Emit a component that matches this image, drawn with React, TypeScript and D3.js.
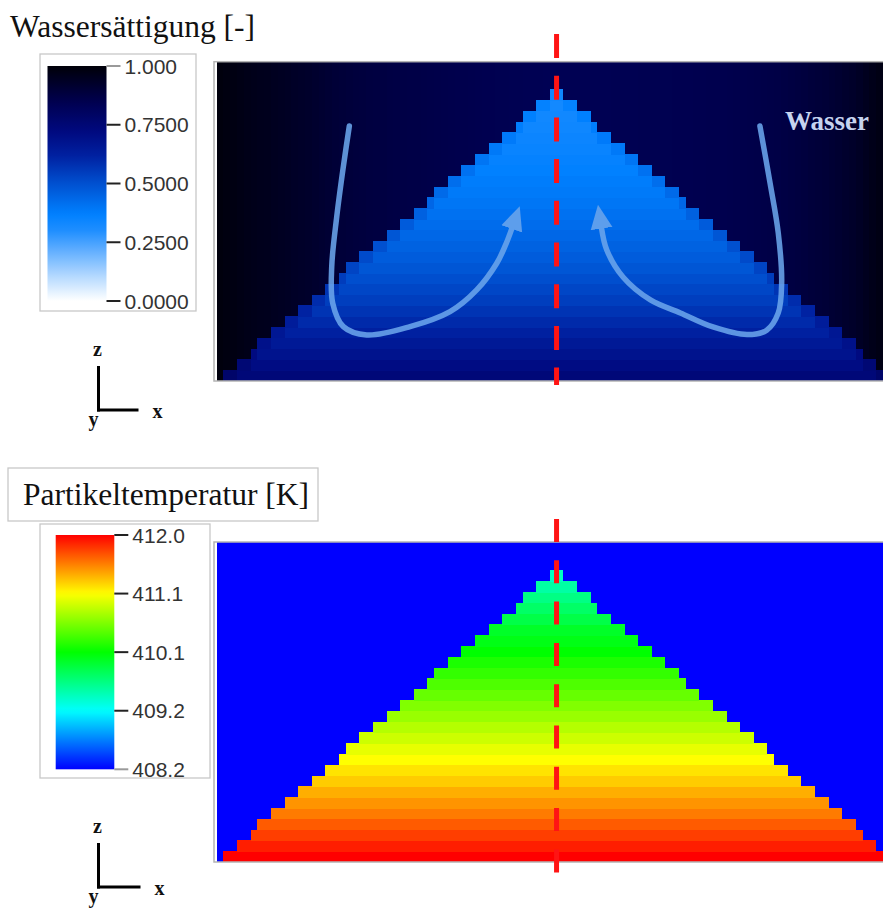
import React from "react";
import * as d3 from "d3";

// ---------- DATA ----------
// column indices of the grid (first one partially visible)
const columnIds = [
  -1, 0, 1, 2, 3, 4, 5, 6, 7, 8, 9, 10, 11, 12, 13, 14, 15, 16, 17, 18, 19, 20, 21, 22, 23, 24,
  25, 26, 27, 28, 29, 30, 31, 32, 33, 34, 35, 36, 37, 38, 39, 40, 41, 42, 43, 44, 45, 46, 47, 48,
  49, 50, 51, 52, 53, 54, 55, 56, 57, 58, 59, 60, 61, 62, 63, 64, 65, 66, 67, 68, 69, 70, 71, 72,
  73, 74, 75, 76, 77, 78, 79, 80, 81, 82, 83, 84, 85, 86, 87, 88, 89, 90, 91, 92, 93, 94, 95, 96, 97,
];
// height of the particle bed (in cells) per column
const bedHeight = [
  0, 1, 1, 2, 2, 3, 4, 4, 5, 5, 6, 6, 7, 7, 8, 8, 9, 9, 10, 11, 11, 12, 12, 13, 13, 14, 14, 15, 15,
  16, 16, 17, 18, 18, 19, 19, 20, 20, 21, 21, 22, 22, 23, 23, 24, 25, 25, 26, 26, 27, 27, 26, 26,
  25, 25, 24, 23, 23, 22, 22, 21, 21, 20, 20, 19, 19, 18, 18, 17, 16, 16, 15, 15, 14, 14, 13, 13,
  12, 12, 11, 11, 10, 9, 9, 8, 8, 7, 7, 6, 6, 5, 5, 4, 4, 3, 2, 2, 1, 1,
];
// water saturation of the free space above the bed, per column
const waterBackground = [
  0.99, 0.982, 0.978, 0.972, 0.966, 0.962, 0.958, 0.954, 0.948, 0.944, 0.94, 0.934, 0.93, 0.924,
  0.918, 0.912, 0.906, 0.9, 0.896, 0.891, 0.887, 0.884, 0.88, 0.878, 0.875, 0.872, 0.87, 0.868,
  0.866, 0.864, 0.862, 0.86, 0.858, 0.856, 0.855, 0.853, 0.852, 0.85, 0.848, 0.846, 0.845, 0.843,
  0.842, 0.84, 0.839, 0.838, 0.837, 0.836, 0.835, 0.835, 0.835, 0.835, 0.836, 0.836, 0.837, 0.837,
  0.838, 0.838, 0.839, 0.839, 0.84, 0.84, 0.841, 0.841, 0.842, 0.842, 0.843, 0.844, 0.845, 0.846,
  0.847, 0.848, 0.849, 0.85, 0.851, 0.852, 0.854, 0.856, 0.858, 0.86, 0.862, 0.865, 0.868, 0.872,
  0.876, 0.88, 0.885, 0.89, 0.895, 0.9, 0.906, 0.912, 0.92, 0.928, 0.938, 0.95, 0.963, 0.975, 0.982,
];
// water saturation inside the bed, per row (bottom -> top)
const waterInterior = [
  0.74, 0.71, 0.68, 0.65, 0.62, 0.595, 0.57, 0.545, 0.525, 0.505, 0.485, 0.468, 0.452, 0.437, 0.423,
  0.41, 0.398, 0.387, 0.377, 0.367, 0.358, 0.35, 0.343, 0.337, 0.332, 0.327, 0.323,
];
// water saturation of the surface cells of the bed, per row
const waterSurface = [
  0.78, 0.75, 0.72, 0.69, 0.66, 0.64, 0.615, 0.59, 0.57, 0.55, 0.53, 0.515, 0.5, 0.485, 0.47, 0.455,
  0.44, 0.43, 0.42, 0.41, 0.4, 0.39, 0.385, 0.375, 0.37, 0.36, 0.335,
];
// particle temperature inside the bed, per row (bottom -> top) [K]
const particleTemp = [
  412.0, 411.89, 411.77, 411.66, 411.54, 411.45, 411.35, 411.24, 411.15, 411.05, 410.96, 410.86,
  410.77, 410.67, 410.58, 410.48, 410.39, 410.29, 410.2, 410.1, 410.02, 409.95, 409.83, 409.72,
  409.61, 409.49, 409.38,
];
const gasTemp = 408.2;

// colour maps
const waterStops = [0, 0.1, 0.2, 0.3, 0.37, 0.5, 0.62, 0.72, 0.85, 1];
const waterColors = ["#ffffff", "#b8dbff", "#6cb4ff", "#1f8eff", "#0080ff", "#0050d0", "#0020a0", "#000a80", "#00004e", "#000008"];
const tempStops = [408.2, 409.15, 410.1, 411.05, 412.0];
const tempColors = ["#0000ff", "#00ffff", "#00ff00", "#ffff00", "#ff0000"];

// legend ticks
const waterTicks = [1.0, 0.75, 0.5, 0.25, 0.0];
const waterTickLabels = ["1.000", "0.7500", "0.5000", "0.2500", "0.0000"];
const tempTicks = [412.0, 411.05, 410.1, 409.15, 408.2];
const tempTickLabels = ["412.0", "411.1", "410.1", "409.2", "408.2"];

// flow arrows (grid units: column, row)
const leftFlowCol = [18.53, 17.65, 16.68, 15.94, 16.09, 17.65, 21.09, 27.46, 33.34, 37.26, 40.21, 41.57, 42.46];
const leftFlowRow = [23.6, 19.84, 15.21, 10.58, 7.19, 5.03, 4.26, 5.03, 6.42, 8.43, 10.9, 12.69, 14.17];
const rightFlowCol = [78.9, 80.4, 81.6, 82.1, 81.6, 79.9, 77.0, 72.0, 67.2, 62.8, 58.8, 56.4, 55.6];
const rightFlowRow = [23.6, 18.3, 13.7, 9.1, 6.3, 4.7, 4.3, 5.0, 6.3, 7.5, 9.6, 12.1, 14.2];

const centerColumn = 49; // symmetry axis of the bed

// ---------- LAYOUT ----------
const W = 883;
const H = 909;
const plotLeft = 214;
const plotRight = 883;
const topPlot = { top: 61.7, bottom: 381, rows: 29.55 };
const botPlot = { top: 542, bottom: 862, rows: 29.63 };

const xScale = d3.scaleLinear().domain([-1.37, 97]).range([plotLeft, plotRight]);
const waterColor = d3.scaleLinear<string>().domain(waterStops).range(waterColors).interpolate(d3.interpolateRgb).clamp(true);
const tempColor = d3.scaleLinear<string>().domain(tempStops).range(tempColors).interpolate(d3.interpolateRgb).clamp(true);

const SERIF = "'Liberation Serif', 'Times New Roman', serif";
const SANS = "'Liberation Sans', Arial, Helvetica, sans-serif";

type FieldProps = {
  plot: { top: number; bottom: number; rows: number };
  bg: (i: number) => string;
  cell: (row: number, height: number) => string;
  clipId: string;
};

function Field({ plot, bg, cell, clipId }: FieldProps) {
  const yScale = d3.scaleLinear().domain([0, plot.rows]).range([plot.bottom, plot.top]);
  const rects: React.ReactNode[] = [];
  columnIds.forEach((c, i) => {
    const h = bedHeight[i];
    const x0 = xScale(c);
    const x1 = xScale(c + 1);
    rects.push(
      <rect key={`bg${c}`} x={x0} y={plot.top} width={x1 - x0 + 0.6} height={yScale(h) - plot.top + 0.6} fill={bg(i)} />
    );
    for (let r = 0; r < h; r++) {
      rects.push(
        <rect
          key={`c${c}-${r}`}
          x={x0}
          y={yScale(r + 1)}
          width={x1 - x0 + 0.6}
          height={yScale(r) - yScale(r + 1) + 0.6}
          fill={cell(r, h)}
        />
      );
    }
  });
  return (
    <g>
      <defs>
        <clipPath id={clipId}>
          <rect x={plotLeft} y={plot.top} width={plotRight - plotLeft} height={plot.bottom - plot.top} />
        </clipPath>
      </defs>
      <g clipPath={`url(#${clipId})`} shapeRendering="crispEdges">
        {rects}
      </g>
      <rect
        x={plotLeft}
        y={plot.top}
        width={plotRight - plotLeft + 2}
        height={plot.bottom - plot.top}
        fill="none"
        stroke="#b4b4b4"
        strokeWidth={1.5}
      />
    </g>
  );
}

type LegendProps = {
  box: { x: number; y: number; w: number; h: number };
  bar: { x: number; y0: number; y1: number; w: number };
  domain: [number, number];
  color: (v: number) => string;
  ticks: number[];
  labels: string[];
  grayTick: number;
  gradId: string;
};

function Legend({ box, bar, domain, color, ticks, labels, grayTick, gradId }: LegendProps) {
  const s = d3.scaleLinear().domain(domain).range([bar.y1, bar.y0]);
  const samples = d3.range(0, 1.0001, 0.02);
  return (
    <g>
      <defs>
        <linearGradient id={gradId} x1="0" y1="1" x2="0" y2="0">
          {samples.map((t) => (
            <stop key={t} offset={t} stopColor={color(domain[0] + t * (domain[1] - domain[0]))} />
          ))}
        </linearGradient>
      </defs>
      <rect x={box.x} y={box.y} width={box.w} height={box.h} fill="#fff" stroke="#c8c8c8" strokeWidth={1.3} />
      <rect x={bar.x} y={bar.y0} width={bar.w} height={bar.y1 - bar.y0} fill={`url(#${gradId})`} />
      {ticks.map((t, i) => (
        <g key={i}>
          <line
            x1={bar.x + bar.w}
            x2={bar.x + bar.w + 14}
            y1={s(t)}
            y2={s(t)}
            stroke={i === grayTick ? "#9a9a9a" : "#222"}
            strokeWidth={2}
          />
          <text
            x={bar.x + bar.w + 18}
            y={s(t)}
            dy="0.36em"
            fontFamily={SANS}
            fontSize={21}
            fill="#333"
          >
            {labels[i]}
          </text>
        </g>
      ))}
    </g>
  );
}

function Triad({ x, y, len }: { x: number; y: number; len: number }) {
  return (
    <g fontFamily={SERIF} fontWeight="bold" fontSize={20} fill="#111" textAnchor="middle">
      <line x1={x} x2={x} y1={y - 44} y2={y + 1.5} stroke="#000" strokeWidth={3} />
      <line x1={x - 1.5} x2={x + len} y1={y} y2={y} stroke="#000" strokeWidth={3} />
      <text x={x - 1} y={y - 54}>z</text>
      <text x={x + len + 19} y={y + 8}>x</text>
      <text x={x - 5} y={y + 16}>y</text>
    </g>
  );
}

function Flow({ cols, rows, plot }: { cols: number[]; rows: number[]; plot: { top: number; bottom: number; rows: number } }) {
  const yScale = d3.scaleLinear().domain([0, plot.rows]).range([plot.bottom, plot.top]);
  const pts = cols.map((c, i) => [xScale(c), yScale(rows[i])] as [number, number]);
  const line = d3.line().curve(d3.curveCatmullRom.alpha(0.5));
  return (
    <g opacity={0.88}>
      <path d={line(pts) || ""} fill="none" stroke="#6aa5ec" strokeWidth={5.5} strokeLinecap="round" markerEnd="url(#flowHead)" />
    </g>
  );
}

export default function App() {
  const topY = d3.scaleLinear().domain([0, topPlot.rows]).range([topPlot.bottom, topPlot.top]);
  const cx = xScale(centerColumn);
  return (
    <svg
      width={W}
      height={H}
      viewBox={`0 0 ${W} ${H}`}
      style={{ position: "absolute", left: 0, top: 0, display: "block", background: "#fff" }}
    >
      <defs>
        <marker
          id="flowHead"
          markerUnits="userSpaceOnUse"
          viewBox="0 0 24 24"
          markerWidth={24}
          markerHeight={24}
          refX={1}
          refY={12}
          orient="auto"
        >
          <path d="M0,1 L24,12 L0,23 Z" fill="#6aa5ec" />
        </marker>
      </defs>
      <rect width={W} height={H} fill="#fff" />

      {/* ---------- top: water saturation ---------- */}
      <text x={10} y={37} fontFamily={SERIF} fontSize={31.5} fill="#111">
        Wassersättigung [-]
      </text>
      <Legend
        box={{ x: 40, y: 54, w: 156, h: 257 }}
        bar={{ x: 47.5, y0: 66, y1: 301, w: 59 }}
        domain={[0, 1]}
        color={(v) => waterColor(v)}
        ticks={waterTicks}
        labels={waterTickLabels}
        grayTick={0}
        gradId="waterGrad"
      />
      <Triad x={98.5} y={410} len={40} />
      <Field
        plot={topPlot}
        bg={(i) => waterColor(waterBackground[i])}
        cell={(r, h) => waterColor(r === h - 1 ? waterSurface[r] : waterInterior[r])}
        clipId="clipTop"
      />
      <Flow cols={leftFlowCol} rows={leftFlowRow} plot={topPlot} />
      <Flow cols={rightFlowCol} rows={rightFlowRow} plot={topPlot} />
      <text x={785} y={topY(23.2)} fontFamily={SERIF} fontWeight="bold" fontSize={27} fill="#c6d3ef">
        Wasser
      </text>
      <line x1={cx} x2={cx} y1={34} y2={385} stroke="#ff1414" strokeWidth={5} strokeDasharray="24 17.7" />

      {/* ---------- bottom: particle temperature ---------- */}
      <rect x={8} y={468} width={310} height={53} fill="#fff" stroke="#c8c8c8" strokeWidth={1.3} />
      <text x={23} y={505} fontFamily={SERIF} fontSize={31.5} fill="#111">
        Partikeltemperatur [K]
      </text>
      <Legend
        box={{ x: 40, y: 524, w: 170, h: 254 }}
        bar={{ x: 55.7, y0: 535, y1: 769.3, w: 58.6 }}
        domain={[408.2, 412.0]}
        color={(v) => tempColor(v)}
        ticks={tempTicks}
        labels={tempTickLabels}
        grayTick={4}
        gradId="tempGrad"
      />
      <Triad x={98.5} y={887} len={42} />
      <Field
        plot={botPlot}
        bg={() => tempColor(gasTemp)}
        cell={(r) => tempColor(particleTemp[r])}
        clipId="clipBot"
      />
      <line x1={cx} x2={cx} y1={519} y2={873} stroke="#ff1414" strokeWidth={5} strokeDasharray="23 18.3" />
    </svg>
  );
}
